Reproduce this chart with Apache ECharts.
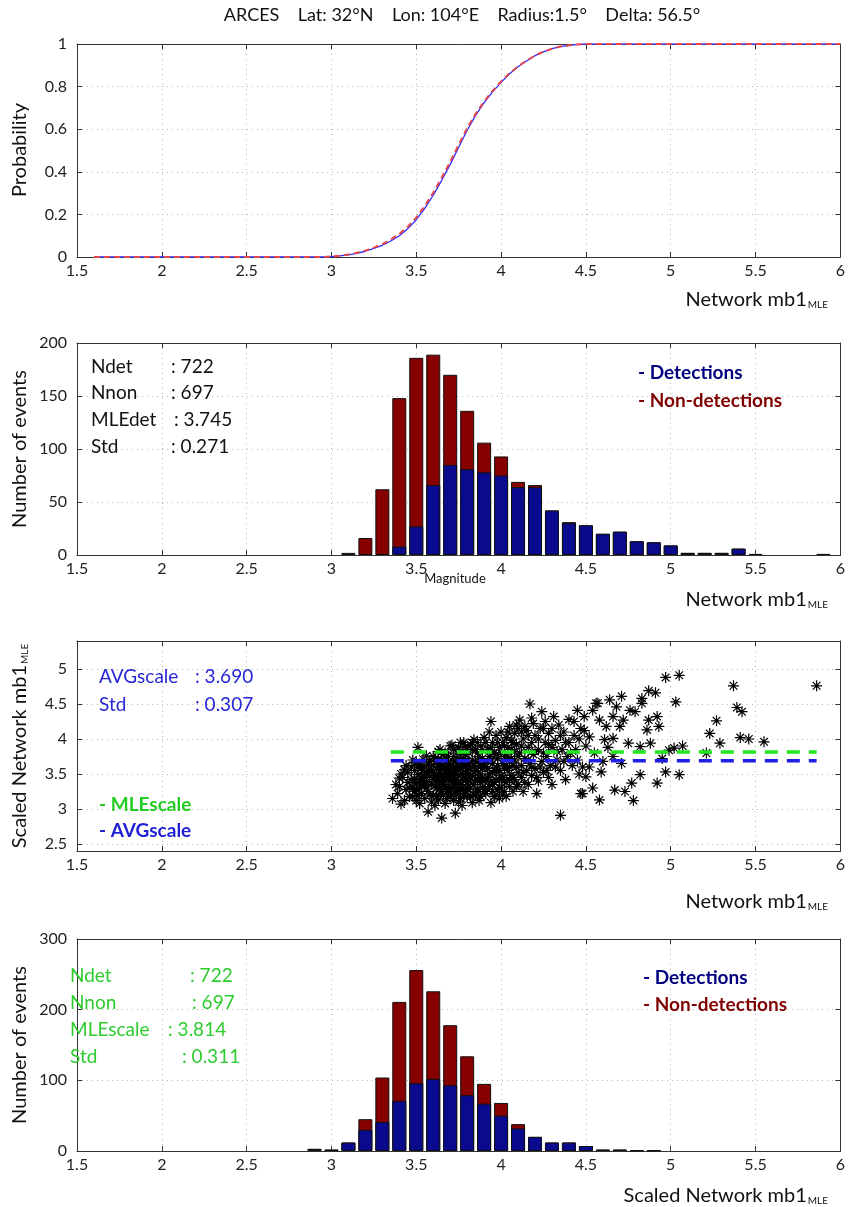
<!DOCTYPE html>
<html><head><meta charset="utf-8">
<script src="https://cdn.jsdelivr.net/npm/echarts@6/dist/echarts.min.js"></script>
<style>html,body{margin:0;padding:0;background:#fff}#c{width:848px;height:1207px}</style>
</head><body><div id="c"></div>
<script>
// ---------- DATA ----------
const titleText = 'ARCES    Lat: 32°N    Lon: 104°E    Radius:1.5°    Delta: 56.5°';

// Panel 1: cumulative probability curves
const cdfX    = [1.6, 2.95, 3.0, 3.05, 3.1, 3.15, 3.2, 3.25, 3.3, 3.35, 3.4, 3.45, 3.5, 3.55, 3.6, 3.65, 3.7, 3.75, 3.8, 3.85, 3.9, 3.95, 4.0, 4.05, 4.1, 4.15, 4.2, 4.25, 4.3, 4.35, 4.4, 4.45, 4.5, 4.55, 6.0];
const cdfBlue = [0, 0, 0.002, 0.005, 0.01, 0.017, 0.027, 0.04, 0.055, 0.075, 0.10, 0.133, 0.175, 0.228, 0.29, 0.36, 0.435, 0.515, 0.595, 0.665, 0.725, 0.775, 0.82, 0.86, 0.893, 0.92, 0.945, 0.963, 0.978, 0.988, 0.994, 0.998, 1, 1, 1];
const cdfRed  = [0, 0, 0.003, 0.006, 0.012, 0.02, 0.03, 0.044, 0.06, 0.082, 0.108, 0.142, 0.185, 0.24, 0.302, 0.372, 0.447, 0.527, 0.605, 0.672, 0.73, 0.78, 0.824, 0.863, 0.895, 0.922, 0.946, 0.964, 0.978, 0.988, 0.994, 0.998, 1, 1, 1];

// Panel 2: histogram of network mb1
const bins2 = [3.1,3.2,3.3,3.4,3.5,3.6,3.7,3.8,3.9,4.0,4.1,4.2,4.3,4.4,4.5,4.6,4.7,4.8,4.9,5.0,5.1,5.2,5.3,5.4,5.5,5.6,5.7,5.8,5.9];
const det2  = [0,0,0,8,27,66,85,81,78,75,64,64,42,30,28,20,22,13,12,9,2,2,2,6,1,0,0,0,1];
const non2  = [2,16,62,140,159,123,85,55,28,18,5,2,0,1,0,0,0,0,0,0,0,0,0,0,0,0,0,0,0];
const stats2Labels = ['Ndet', 'Nnon', 'MLEdet', 'Std'];
const stats2Values = [': 722', ': 697', ': 3.745', ': 0.271'];

// Panel 3: scaled vs network magnitude
const mleScale = 3.814, avgScale = 3.690, scaleLineFrom = 3.35, scaleLineTo = 5.86;
const stats3Labels = ['AVGscale', 'Std'];
const stats3Values = [': 3.690', ': 0.307'];
const scatterPts = [
[3.36,3.15],[3.41,3.07],[3.40,3.32],[3.42,3.45],[3.44,3.28],[3.43,3.56],[3.45,3.38],[3.39,3.22],[3.44,3.62],[3.46,3.18],[3.41,3.50],[3.47,3.42],
[3.48,3.31],[3.49,3.55],[3.50,3.12],[3.50,3.66],[3.51,3.88],[3.52,3.40],[3.53,3.22],[3.53,3.58],[3.54,3.47],[3.55,3.33],[3.48,3.70],[3.49,3.25],[3.51,3.49],[3.52,3.62],[3.54,3.71],[3.55,3.15],[3.56,3.52],[3.57,2.96],[3.47,3.60],[3.50,3.37],[3.52,3.29],[3.53,3.44],[3.55,3.60],[3.56,3.39],[3.57,3.25],[3.58,3.68],[3.58,3.47],[3.59,3.10],[3.56,3.76],[3.49,3.43],[3.51,3.19],[3.54,3.36],[3.57,3.55],[3.59,3.35],[3.60,3.63],
[3.60,3.20],[3.61,3.45],[3.61,3.72],[3.62,3.30],[3.62,3.57],[3.63,3.13],[3.63,3.82],[3.64,3.40],[3.64,3.65],[3.65,2.87],[3.65,3.25],[3.65,3.50],[3.66,3.78],[3.66,3.35],[3.67,3.60],[3.67,3.08],[3.68,3.45],[3.68,3.70],[3.69,3.28],[3.69,3.55],[3.70,3.90],[3.70,3.18],[3.60,3.52],[3.61,3.05],[3.62,3.68],[3.63,3.48],[3.64,3.22],[3.65,3.62],[3.66,3.42],[3.67,3.32],[3.68,3.15],[3.69,3.75],[3.70,3.40],[3.70,3.62],[3.62,3.38],[3.64,3.85],[3.66,3.57],[3.68,3.52],[3.63,3.60],[3.67,3.47],
[3.71,3.91],[3.71,3.30],[3.72,3.55],[3.72,3.12],[3.73,2.94],[3.73,3.68],[3.74,3.42],[3.74,3.80],[3.75,3.22],[3.75,3.60],[3.76,3.35],[3.76,3.95],[3.77,3.50],[3.77,3.05],[3.78,3.72],[3.78,3.28],[3.79,3.62],[3.79,3.40],[3.80,3.85],[3.80,3.18],[3.71,3.48],[3.72,3.75],[3.73,3.36],[3.74,3.58],[3.75,3.88],[3.76,3.15],[3.77,3.66],[3.78,3.45],[3.79,3.25],[3.80,3.55],[3.72,3.40],[3.74,3.25],[3.76,3.70],[3.78,3.95],[3.80,3.38],[3.73,3.50],[3.77,3.30],[3.79,3.78],
[3.81,3.62],[3.81,3.28],[3.82,3.92],[3.82,3.45],[3.83,3.09],[3.83,3.70],[3.84,3.99],[3.84,3.35],[3.85,3.55],[3.85,3.20],[3.86,3.80],[3.86,3.42],[3.87,3.65],[3.87,3.12],[3.88,3.90],[3.88,3.50],[3.89,3.30],[3.89,3.72],[3.90,4.02],[3.90,3.40],[3.81,3.50],[3.83,3.85],[3.85,3.68],[3.87,3.25],[3.89,3.58],[3.82,3.18],[3.86,3.95],[3.88,3.38],
[3.91,3.60],[3.91,3.22],[3.92,3.85],[3.92,3.45],[3.93,4.10],[3.93,3.32],[3.94,3.09],[3.94,4.25],[3.94,3.70],[3.95,3.52],[3.95,3.95],[3.96,3.38],[3.96,3.18],[3.97,3.78],[3.97,4.05],[3.98,3.62],[3.98,3.28],[3.99,3.30],[3.99,3.88],[4.00,4.10],[4.00,3.48],[3.92,3.68],[3.95,3.25],[3.97,3.55],[3.99,3.42],
[4.01,3.65],[4.01,3.20],[4.02,3.90],[4.02,3.40],[4.03,3.18],[4.03,4.02],[4.04,3.55],[4.04,3.75],[4.05,4.18],[4.05,3.32],[4.06,3.85],[4.06,3.48],[4.07,3.62],[4.07,3.25],[4.08,4.08],[4.08,3.70],[4.09,3.32],[4.09,3.92],[4.10,3.52],[4.10,4.15],[4.02,3.58],[4.06,3.98],[4.08,3.42],
[4.11,4.27],[4.11,3.80],[4.12,3.45],[4.12,3.62],[4.13,3.25],[4.13,4.00],[4.14,3.72],[4.15,3.55],[4.15,4.12],[4.16,3.88],[4.16,3.35],[4.17,4.50],[4.17,3.65],[4.18,3.95],[4.18,3.48],[4.19,4.22],[4.19,3.78],[4.20,3.58],[4.21,3.22],[4.20,4.05],
[4.22,3.85],[4.22,3.40],[4.23,4.15],[4.24,4.39],[4.24,3.68],[4.25,3.52],[4.26,3.95],[4.26,4.25],[4.27,3.75],[4.28,3.45],[4.28,4.08],[4.29,3.62],[4.30,3.88],[4.31,4.32],[4.30,3.35],
[4.32,3.98],[4.33,3.70],[4.34,4.20],[4.35,2.91],[4.35,3.55],[4.36,3.85],[4.37,4.10],[4.38,3.42],[4.39,3.75],[4.40,4.28],[4.40,3.95],
[4.42,3.62],[4.43,4.05],[4.44,3.85],[4.45,4.41],[4.46,3.50],[4.47,3.22],[4.47,4.15],[4.48,3.22],[4.49,4.32],[4.50,3.46],[4.50,3.90],
[4.52,4.03],[4.54,3.30],[4.54,4.41],[4.56,4.51],[4.57,4.51],[4.58,3.13],[4.58,4.27],[4.59,3.53],[4.61,3.99],[4.62,4.18],[4.64,4.56],[4.66,4.32],[4.66,4.01],[4.66,3.75],[4.67,3.27],[4.68,4.46],[4.70,4.18],[4.71,4.61],[4.71,3.65],[4.72,4.27],[4.73,3.25],[4.75,3.94],[4.76,4.41],[4.77,3.37],[4.78,3.12],[4.79,4.39],[4.82,3.49],[4.82,3.89],[4.83,4.58],[4.83,4.51],[4.86,4.13],[4.87,4.27],[4.87,4.69],[4.88,3.94],[4.91,4.66],[4.92,4.32],[4.92,3.37],[4.93,4.18],[4.95,3.72],[4.97,4.88],[4.97,3.53],[4.99,3.84],[5.02,3.87],[5.03,4.53],[5.05,4.91],[5.05,3.49],[5.07,3.90],[5.21,3.80],[5.23,4.08],[5.27,4.26],[5.29,3.94],[5.37,4.76],[5.39,4.45],[5.41,4.02],[5.42,4.39],[5.46,4.00],[5.55,3.96],[5.86,4.76],
[4.55,3.80],[4.60,3.68],[4.63,3.88],[4.52,3.60],
[3.38,3.35],[3.40,3.44],[3.43,3.12],[3.45,3.52],[3.46,3.30],[3.48,3.18],[3.50,3.28],[3.51,3.60],[3.52,3.08],[3.53,3.34],[3.54,3.55],[3.55,3.45],[3.56,3.30],[3.57,3.64],[3.58,3.20],[3.59,3.55],[3.60,3.42],[3.60,3.75],[3.61,3.33],[3.62,3.50],[3.62,3.18],[3.63,3.72],[3.64,3.30],[3.64,3.55],[3.65,3.40],[3.65,3.70],[3.66,3.20],[3.66,3.50],[3.67,3.80],[3.67,3.40],[3.68,3.60],[3.68,3.25],[3.69,3.45],[3.69,3.65],[3.70,3.30],[3.70,3.52],
[3.71,3.62],[3.71,3.20],[3.72,3.48],[3.72,3.85],[3.73,3.25],[3.73,3.60],[3.74,3.35],[3.74,3.70],[3.75,3.48],[3.75,3.10],[3.76,3.58],[3.76,3.28],[3.77,3.82],[3.77,3.42],[3.78,3.62],[3.78,3.18],[3.79,3.50],[3.79,3.90],[3.80,3.30],[3.80,3.68],
[3.81,3.40],[3.81,3.80],[3.82,3.58],[3.82,3.30],[3.83,3.48],[3.83,3.95],[3.84,3.62],[3.84,3.20],[3.85,3.85],[3.85,3.42],[3.86,3.55],[3.86,3.28],[3.87,3.75],[3.87,3.45],[3.88,3.62],[3.88,3.18],[3.89,3.85],[3.89,3.45],[3.90,3.65],[3.90,3.25],
[3.91,3.42],[3.91,3.95],[3.92,3.58],[3.92,3.28],[3.93,3.75],[3.93,3.50],[3.94,3.40],[3.94,3.88],[3.95,3.65],[3.95,3.35],[3.96,3.80],[3.96,3.55],[3.97,3.20],[3.97,3.42],[3.98,3.95],[3.98,3.72],[3.99,3.55],[3.99,3.15],[4.00,3.80],[4.00,3.30],
[4.01,3.45],[4.01,3.95],[4.02,3.75],[4.02,3.25],[4.03,3.62],[4.03,3.38],[4.04,3.88],[4.04,4.10],[4.05,3.60],[4.05,3.42],[4.06,3.72],[4.07,3.95],[4.07,3.45],[4.08,3.82],[4.09,3.60],[4.09,4.20],[4.10,3.35],[4.10,3.75],
[4.12,3.90],[4.12,4.10],[4.13,3.52],[4.14,3.38],[4.14,4.18],[4.16,3.70],[4.16,4.05],[4.18,3.60],[4.18,4.30],[4.20,3.82],[4.21,3.45],[4.22,4.00],[4.23,3.60],[4.25,3.80],[4.25,4.15],[4.27,3.55],[4.28,3.92],[4.30,4.15],
[4.32,3.60],[4.33,3.82],[4.35,4.05],[4.37,3.68],[4.38,3.95],[4.41,3.80],[4.43,4.25],[4.45,3.70],[4.46,4.00],[4.48,3.60],[4.49,4.12]
];

// Panel 4: histogram of scaled network mb1
const bins4 = [2.9,3.0,3.1,3.2,3.3,3.4,3.5,3.6,3.7,3.8,3.9,4.0,4.1,4.2,4.3,4.4,4.5,4.6,4.7,4.8,4.9];
const det4  = [3,2,12,30,41,71,96,102,93,79,67,50,32,20,12,12,7,2,2,1,1];
const non4  = [0,0,0,15,63,140,160,124,85,55,28,18,6,0,0,0,0,0,0,0,0];
const stats4Labels = ['Ndet', 'Nnon', 'MLEscale', 'Std'];
const stats4Values = [': 722', ': 697', ': 3.814', ': 0.311'];

const yTicks3 = [2.5, 3, 3.5, 4, 4.5, 5];

// ---------- CHART ----------
const FONT = 'Lato, "Noto Sans", "DejaVu Sans", sans-serif';
const AX = '#333';
const grids = [
  {left:77, top:44,  width:764, height:213},
  {left:77, top:343, width:764, height:212},
  {left:77, top:641, width:764, height:210},
  {left:77, top:939, width:764, height:212}
];
const gridLine = {show:true, lineStyle:{color:'#b5b5b5', type:[1,4], width:1}};
function xAxesFor(g){
  return [
    {type:'value', gridIndex:g, min:1.5, max:6, interval:0.5, position:'bottom',
     axisLine:{show:true, onZero:false, lineStyle:{color:AX, width:1}},
     axisTick:{show:true, inside:true, length:5, lineStyle:{color:AX}},
     axisLabel:{show:true, margin:6, color:'#222', fontSize:16, fontFamily:FONT},
     splitLine:gridLine},
    {type:'value', gridIndex:g, min:1.5, max:6, interval:0.5, position:'top',
     axisLine:{show:true, onZero:false, lineStyle:{color:AX, width:1}},
     axisTick:{show:true, inside:true, length:5, lineStyle:{color:AX}},
     axisLabel:{show:false}, splitLine:{show:false}}
  ];
}
function yAxesFor(g, min, max, interval, custom){
  const l = {type:'value', gridIndex:g, min:min, max:max, position:'left',
     axisLine:{show:true, onZero:false, lineStyle:{color:AX, width:1}},
     axisTick:{show:true, inside:true, length:5, lineStyle:{color:AX}},
     axisLabel:{show:true, margin:10, color:'#222', fontSize:16, fontFamily:FONT},
     splitLine:gridLine};
  const r = {type:'value', gridIndex:g, min:min, max:max, position:'right',
     axisLine:{show:true, onZero:false, lineStyle:{color:AX, width:1}},
     axisTick:{show:true, inside:true, length:5, lineStyle:{color:AX}},
     axisLabel:{show:false}, splitLine:{show:false}};
  if (custom) {
    l.axisLabel.customValues = custom; l.axisTick.customValues = custom;
    r.axisTick.customValues = custom; r.axisLabel.customValues = custom;
  } else { l.interval = interval; r.interval = interval; }
  return [l, r];
}
const xAxis = [].concat(xAxesFor(0), xAxesFor(1), xAxesFor(2), xAxesFor(3));
const yAxis = [].concat(yAxesFor(0,0,1,0.2), yAxesFor(1,0,200,50), yAxesFor(2,2.4,5.4,null,yTicks3), yAxesFor(3,0,300,100));

const BLUE_BAR = '#0a0a8e', RED_BAR = '#860000';
// Non-detections are stacked on top of detections: the red bar spans 0..(det+non), the blue bar 0..det drawn over it.
function barPair(bins, det, non, xi, yi){
  const v = (n)=> n > 0 ? n : '-';
  return [
    {type:'bar', xAxisIndex:xi, yAxisIndex:yi, barWidth:14, barGap:'-100%', z:2,
     itemStyle:{color:RED_BAR, borderColor:'#111', borderWidth:1},
     data: bins.map((b,i)=>[b, v(det[i] + non[i])])},
    {type:'bar', xAxisIndex:xi, yAxisIndex:yi, barWidth:14, barGap:'-100%', z:3,
     itemStyle:{color:BLUE_BAR, borderColor:'#111', borderWidth:1},
     data: bins.map((b,i)=>[b, v(det[i])])}
  ];
}
const asterisk = 'path://M5,0L5,10M0,5L10,5M1.5,1.5L8.5,8.5M1.5,8.5L8.5,1.5';

const series = [
  {type:'line', xAxisIndex:0, yAxisIndex:0, showSymbol:false, symbol:'none',
   lineStyle:{color:'#2b2bff', width:1.3}, data: cdfX.map((x,i)=>[x, cdfBlue[i]])},
  {type:'line', xAxisIndex:0, yAxisIndex:0, showSymbol:false, symbol:'none',
   lineStyle:{color:'#e8464e', width:2, type:[6,4]}, data: cdfX.map((x,i)=>[x, cdfRed[i]])},
  ...barPair(bins2, det2, non2, 2, 2),
  {type:'scatter', xAxisIndex:4, yAxisIndex:4, symbol:asterisk, symbolSize:11,
   itemStyle:{color:'rgba(0,0,0,0)', borderColor:'#000', borderWidth:1.2, opacity:1},
   data: scatterPts},
  {type:'line', xAxisIndex:4, yAxisIndex:4, symbol:'none', z:5, lineStyle:{color:'#1ee81e', width:3.5, type:[13,9]},
   data:[[scaleLineFrom, mleScale],[scaleLineTo, mleScale]]},
  {type:'line', xAxisIndex:4, yAxisIndex:4, symbol:'none', z:5, lineStyle:{color:'#1f1fe6', width:3.5, type:[13,9]},
   data:[[scaleLineFrom, avgScale],[scaleLineTo, avgScale]]},
  ...barPair(bins4, det4, non4, 6, 6)
];

// ---------- TEXT ----------
function txt(x, y, text, opt){
  opt = opt || {};
  return {type:'text', x:x, y:y, rotation: opt.rot || 0, z:100,
    style:{text:text, fill:opt.color||'#111', fontSize:opt.size||19, fontFamily:FONT,
      fontWeight:opt.weight||'normal', align:opt.align||'left', verticalAlign:'middle'}};
}
function richName(x, y, main, sub, rot){
  return {type:'text', x:x, y:y, rotation: rot||0, z:100,
    style:{text:'{a|'+main+'}{b|'+sub+'}', align: rot ? 'center':'right', verticalAlign:'middle',
      rich:{a:{fontSize:20, fontFamily:FONT, fill:'#111'}, b:{fontSize:10, fontFamily:FONT, fill:'#111', verticalAlign:'bottom', padding:[0,0,0,1]}}}};
}
const graphics = [
  txt(462, 15, titleText, {size:18, align:'center'}),
  txt(20, 150, 'Probability', {size:20, align:'center', rot:Math.PI/2}),
  richName(828, 300, 'Network mb1', 'MLE'),
  txt(20, 449, 'Number of events', {size:20, align:'center', rot:Math.PI/2}),
  txt(455, 579, 'Magnitude', {size:13, align:'center'}),
  richName(828, 600, 'Network mb1', 'MLE'),
  richName(20, 746, 'Scaled Network mb1', 'MLE', Math.PI/2),
  richName(828, 902, 'Network mb1', 'MLE'),
  txt(20, 1045, 'Number of events', {size:20, align:'center', rot:Math.PI/2}),
  richName(828, 1196, 'Scaled Network mb1', 'MLE'),
  txt(638, 373, '- Detections', {color:'#000080', weight:'bold'}),
  txt(638, 401, '- Non-detections', {color:'#800000', weight:'bold'}),
  txt(99, 805, '- MLEscale', {color:'#22cc22', weight:'bold'}),
  txt(99, 831, '- AVGscale', {color:'#1f1fd6', weight:'bold'}),
  txt(643, 978, '- Detections', {color:'#000080', weight:'bold'}),
  txt(643, 1005, '- Non-detections', {color:'#800000', weight:'bold'})
];
const rows2 = [367, 393, 420, 447];
stats2Labels.forEach((s,i)=>{ graphics.push(txt(91, rows2[i], s)); graphics.push(txt(i===2?174:171, rows2[i], stats2Values[i])); });
const rows3 = [677, 705];
stats3Labels.forEach((s,i)=>{ graphics.push(txt(99, rows3[i], s, {color:'#2626d6'})); graphics.push(txt(195, rows3[i], stats3Values[i], {color:'#2626d6'})); });
const rows4 = [976, 1003, 1030, 1057];
const col4 = [190, 192, 168, 182];
stats4Labels.forEach((s,i)=>{ graphics.push(txt(70, rows4[i], s, {color:'#2ecc2e'})); graphics.push(txt(col4[i], rows4[i], stats4Values[i], {color:'#2ecc2e'})); });

const chart = echarts.init(document.getElementById('c'), null, {renderer:'canvas'});
chart.setOption({
  animation:false, backgroundColor:'#fff',
  textStyle:{fontFamily:FONT},
  grid: grids, xAxis: xAxis, yAxis: yAxis, series: series, graphic: graphics
});
</script></body></html>
